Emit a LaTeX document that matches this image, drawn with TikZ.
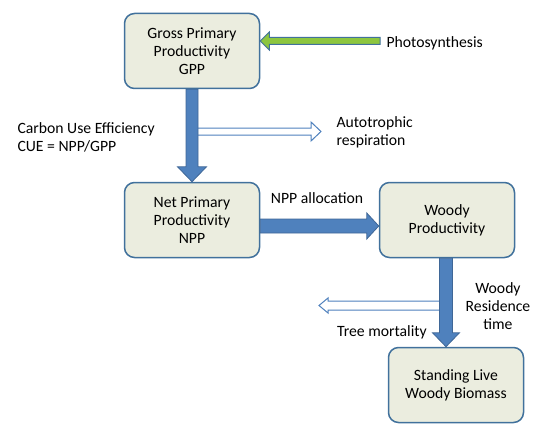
\documentclass[tikz,border=0pt]{standalone}
\usepackage{fontspec}
\setmainfont{Carlito}
\usetikzlibrary{calc}
\definecolor{poolfill}{HTML}{EBEDDF}
\definecolor{poolline}{HTML}{41719C}
\definecolor{flowblue}{HTML}{4F81BD}
\definecolor{sungreen}{HTML}{8DC63F}
% block arrow: [style]{from}{to}{shaft half}{head half}{head length}
\newcommand{\blockarrow}[6][]{%
  \draw[#1] ($(#2)!#4!90:(#3)$) -- ($(#3)!#6!(#2)!#4!90:(#3)$)
    -- ($(#3)!#6!(#2)!#5!90:(#3)$) -- (#3)
    -- ($(#3)!#6!(#2)!#5!-90:(#3)$) -- ($(#3)!#6!(#2)!#4!-90:(#3)$)
    -- ($(#2)!#4!-90:(#3)$) -- cycle;}
\begin{document}
\begin{tikzpicture}[x=1pt, y=-1pt,
  pool/.style={draw=poolline, line width=1.5pt, fill=poolfill, rounded corners=10pt,
    minimum width=135pt, minimum height=75pt, align=center,
    font=\fontsize{15.7}{18}\selectfont},
  lbl/.style={align=center, font=\fontsize{15.7}{18}\selectfont},
  flow/.style={fill=flowblue, draw=flowblue!80!black, line width=0.8pt},
  loss/.style={fill=white, draw=flowblue, line width=1pt},
  sun/.style={fill=sungreen, draw=poolline, line width=1pt}]
  \useasboundingbox (0,0) rectangle (549,436);
  % carbon pools
  \node[pool] (gpp) at (192,51) {Gross Primary\\Productivity\\GPP};
  \node[pool] (npp) at (192,220) {Net Primary\\Productivity\\NPP};
  \node[pool] (wood) at (447,220) {Woody\\Productivity};
  \node[pool] (stock) at (456,385) {Standing Live\\Woody Biomass};
  % labels
  \node[lbl, anchor=west] (photo) at (383,43) {Photosynthesis};
  \node[lbl, anchor=west, align=left] (cue) at (14,137) {Carbon Use Efficiency\\CUE = NPP/GPP};
  \node[lbl, anchor=west, align=left] (resp) at (333,132) {Autotrophic\\respiration};
  \node[lbl] (alloc) at (317,198) {NPP allocation};
  \node[lbl] (resid) at (498,306) {Woody\\Residence\\time};
  \node[lbl] (mort) at (382,332) {Tree mortality};
  % flows
  \coordinate (respA) at (192,131.5);
  \coordinate (respB) at (321,131.5);
  \coordinate (mortA) at (446,305.5);
  \coordinate (mortB) at (319,305.5);
  \coordinate (sunA) at (380,41);
  \coordinate (sunB) at (gpp.east |- sunA);
  \coordinate (allocA) at ($(npp.east)+(0,6)$);
  \coordinate (allocB) at ($(wood.west)+(0,6)$);
  \coordinate (woodA) at ($(wood.south)+(-1,0)$);
  \coordinate (woodB) at ($(stock.north)+(-10,0)$);
  \blockarrow[loss]{respA}{respB}{3.5pt}{9.5pt}{10pt}
  \blockarrow[loss]{mortA}{mortB}{4.5pt}{7.5pt}{9pt}
  \blockarrow[sun]{sunA}{sunB}{3.5pt}{9pt}{9pt}
  \blockarrow[flow]{gpp.south}{npp.north}{6pt}{14.5pt}{15pt}
  \blockarrow[flow]{allocA}{allocB}{7pt}{13pt}{12pt}
  \blockarrow[flow]{woodA}{woodB}{6.5pt}{13.5pt}{14pt}
\end{tikzpicture}
\end{document}
